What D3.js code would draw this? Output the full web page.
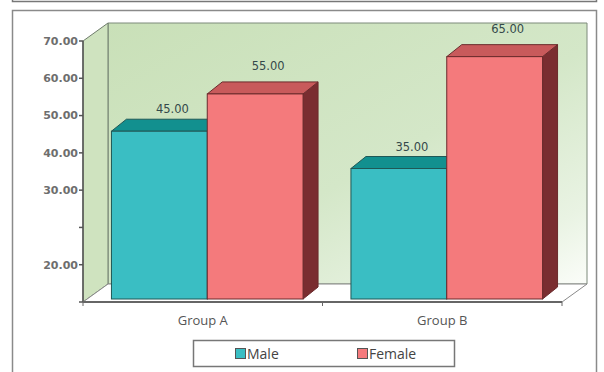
<!DOCTYPE html>
<html><head><meta charset="utf-8">
<script src="https://cdn.jsdelivr.net/npm/d3@7"></script>
<style>html,body{margin:0;padding:0;background:#fff;}svg{display:block;}</style>
</head><body>
<svg id="chart" width="604" height="372"></svg>
<script>
const groups = ["Group A", "Group B"];
const seriesNames = ["Male", "Female"];
const maleValues = [45, 35];
const femaleValues = [55, 65];
const yTickValues = [0, 10, 20, 30, 40, 50, 60, 70];
const yTickLabels = ["", "20.00", "", "30.00", "40.00", "50.00", "60.00", "70.00"];

(function () {
const colors = {
  Male:   {front: "#3abec3", top: "#12908f", side: "#0e6e6e", stroke: "#1f5856"},
  Female: {front: "#f47a7c", top: "#c85a5b", side: "#7a2d30", stroke: "#6a2a2c"}
};

const svg = d3.select("#chart");

// frames
svg.append("rect").attr("x", 12.5).attr("y", -20).attr("width", 584).attr("height", 21.5)
  .attr("fill", "none").attr("stroke", "#777").attr("stroke-width", 1.5);
svg.append("rect").attr("x", 12.5).attr("y", 10.5).attr("width", 584).attr("height", 380)
  .attr("fill", "#fff").attr("stroke", "#8a8a8a").attr("stroke-width", 1.5);

const defs = svg.append("defs");
const g1 = defs.append("linearGradient").attr("id", "wallGrad")
  .attr("x1", 0).attr("y1", 0).attr("x2", 1).attr("y2", 1);
g1.append("stop").attr("offset", "0").attr("stop-color", "#c9e0b8");
g1.append("stop").attr("offset", "0.55").attr("stop-color", "#d4e7c8");
g1.append("stop").attr("offset", "0.85").attr("stop-color", "#e9f3e3");
g1.append("stop").attr("offset", "1").attr("stop-color", "#fbfdf9");

const left = 83, right = 562, bottom = 302;
const depth = {dx: 25, dy: -18};
const barDepth = {dx: 15, dy: -12};
const barShift = {dx: 4.5, dy: -3};

const y = d3.scaleLinear().domain([0, 70]).range([bottom, 41]);
const x0 = d3.scaleBand().domain(groups).range([left, right]).padding(0);
const x1 = d3.scaleBand().domain(seriesNames).range([0, x0.bandwidth()]).paddingInner(0).paddingOuter(0.25);

const yTop = y(70);
const pts = a => a.map(p => p.join(",")).join(" ");

// back wall
svg.append("polygon")
  .attr("points", pts([[left + depth.dx, yTop + depth.dy], [right + depth.dx, yTop + depth.dy],
                       [right + depth.dx, bottom + depth.dy], [left + depth.dx, bottom + depth.dy]]))
  .attr("fill", "url(#wallGrad)").attr("stroke", "#7d8a7a").attr("stroke-width", 1);
// left wall
svg.append("polygon")
  .attr("points", pts([[left, yTop], [left + depth.dx, yTop + depth.dy],
                       [left + depth.dx, bottom + depth.dy], [left, bottom]]))
  .attr("fill", "#cfe3bf").attr("stroke", "#6f7c6c").attr("stroke-width", 1);
// floor
svg.append("polygon")
  .attr("points", pts([[left, bottom], [left + depth.dx, bottom + depth.dy],
                       [right + depth.dx, bottom + depth.dy], [right, bottom]]))
  .attr("fill", "#ffffff").attr("stroke", "#8a8a8a").attr("stroke-width", 1);

// bars
const data = [];
groups.forEach((g, i) => {
  data.push({group: g, series: "Male", value: maleValues[i]});
  data.push({group: g, series: "Female", value: femaleValues[i]});
});

const barG = svg.append("g");
data.forEach(d => {
  const c = colors[d.series];
  const xa = x0(d.group) + x1(d.series) + barShift.dx;
  const xb = xa + x1.bandwidth();
  const yt = y(d.value) + barShift.dy;
  const yb = y(0) + barShift.dy;
  const g = barG.append("g");
  g.append("polygon").attr("points", pts([[xb, yt], [xb + barDepth.dx, yt + barDepth.dy],
      [xb + barDepth.dx, yb + barDepth.dy], [xb, yb]]))
    .attr("fill", c.side).attr("stroke", c.stroke).attr("stroke-width", 1);
  g.append("polygon").attr("points", pts([[xa, yt], [xa + barDepth.dx, yt + barDepth.dy],
      [xb + barDepth.dx, yt + barDepth.dy], [xb, yt]]))
    .attr("fill", c.top).attr("stroke", c.stroke).attr("stroke-width", 1);
  g.append("rect").attr("x", xa).attr("y", yt).attr("width", xb - xa).attr("height", yb - yt)
    .attr("fill", c.front).attr("stroke", c.stroke).attr("stroke-width", 1);
  g.append("text")
    .attr("x", (xa + xb) / 2 + 13)
    .attr("y", yt + barDepth.dy - (d.series === "Male" ? 6 : 12))
    .attr("text-anchor", "middle")
    .attr("font-family", "DejaVu Sans, sans-serif").attr("font-size", "11.5px")
    .attr("fill", "#34494a")
    .text(d3.format(".2f")(d.value));
});

// y axis
svg.append("line").attr("x1", left).attr("x2", left).attr("y1", yTop).attr("y2", bottom)
  .attr("stroke", "#555").attr("stroke-width", 1.5);
const yAxisG = svg.append("g");
yTickValues.forEach((v, i) => {
  yAxisG.append("line").attr("x1", left - 4).attr("x2", left).attr("y1", y(v)).attr("y2", y(v))
    .attr("stroke", "#555").attr("stroke-width", 1.5);
  yAxisG.append("text").attr("x", left - 5).attr("y", y(v)).attr("dy", "0.35em")
    .attr("text-anchor", "end")
    .attr("font-family", "DejaVu Sans, sans-serif").attr("font-weight", "bold").attr("font-size", "11px")
    .attr("fill", "#6e6e6e").text(yTickLabels[i]);
});

// x axis
svg.append("line").attr("x1", left).attr("x2", right).attr("y1", bottom).attr("y2", bottom)
  .attr("stroke", "#666").attr("stroke-width", 2);
const xTickPos = [left].concat(groups.map(g => x0(g) + x0.bandwidth()));
xTickPos.forEach(p => {
  svg.append("line").attr("x1", p).attr("x2", p).attr("y1", bottom).attr("y2", bottom + 4)
    .attr("stroke", "#666").attr("stroke-width", 1);
});
groups.forEach(g => {
  svg.append("text").attr("x", x0(g) + x0.bandwidth() / 2).attr("y", 325)
    .attr("text-anchor", "middle")
    .attr("font-family", "Open Sans, sans-serif").attr("font-size", "13px")
    .attr("fill", "#555").text(g);
});

// legend
const lg = svg.append("g");
lg.append("rect").attr("x", 193.5).attr("y", 340.5).attr("width", 261).attr("height", 26)
  .attr("fill", "#fff").attr("stroke", "#777").attr("stroke-width", 1.5);
const legX = [235, 357];
seriesNames.forEach((s, i) => {
  lg.append("rect").attr("x", legX[i] + 0.5).attr("y", 348.5).attr("width", 10).attr("height", 10)
    .attr("fill", colors[s].front).attr("stroke", "#555").attr("stroke-width", 1);
  lg.append("text").attr("x", legX[i] + 12).attr("y", 359)
    .attr("font-family", "Open Sans, sans-serif").attr("font-size", "14px")
    .attr("fill", "#444").text(s);
});
})();
</script>
</body></html>
